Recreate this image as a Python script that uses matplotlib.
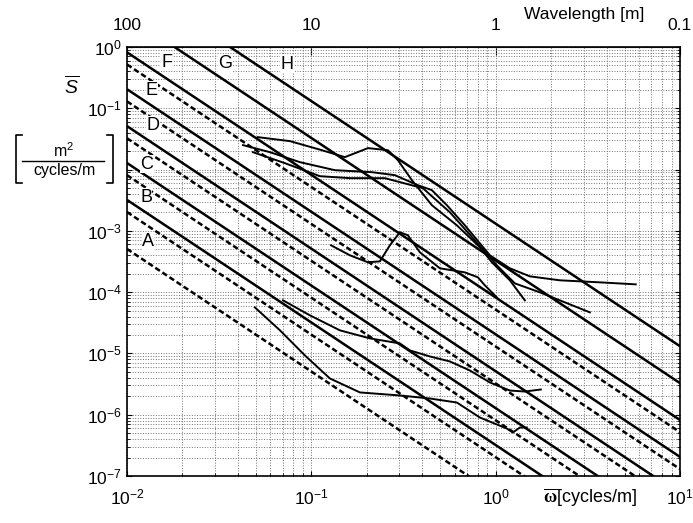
import numpy as np
import matplotlib.pyplot as plt
from matplotlib.lines import Line2D
from matplotlib.ticker import LogLocator, FixedLocator, NullFormatter

plt.rcParams['font.family'] = 'Liberation Sans'
plt.rcParams['mathtext.fontset'] = 'custom'
plt.rcParams['mathtext.rm'] = 'Liberation Sans'
plt.rcParams['mathtext.it'] = 'Liberation Sans:italic'
plt.rcParams['mathtext.bf'] = 'Liberation Serif:bold'

# ISO class boundaries at n0 = 0.1 cycles/m [m^3]
iso_bounds = [32e-6, 128e-6, 512e-6, 2048e-6, 8192e-6, 32768e-6, 131072e-6]
iso_n0 = 0.1
# older class limits at 1/(2 pi) cycles/m
old_bounds = [2e-6, 8e-6, 32e-6, 128e-6, 512e-6, 2048e-6]
old_n0 = 1 / (2 * np.pi)
freq_range = [1e-2, 1e1]

class_labels = ['A', 'B', 'C', 'D', 'E', 'F', 'G', 'H']
label_x = [0.0130, 0.01268, 0.01284, 0.01384, 0.01366, 0.01648, 0.0340, 0.0737]
label_y = [6.76e-4, 3.54e-3, 1.225e-2, 0.0531, 0.1983, 0.5688, 0.5477, 0.527]

# measured spectra
u1_f = [0.0513, 0.0766, 0.1141, 0.1521, 0.2028, 0.2602, 0.2948, 0.3512, 0.4508, 0.6162, 0.821, 0.9537, 1.194, 1.44]
u1_s = [0.0338, 0.0291, 0.0207, 0.01595, 0.0224, 0.0207, 0.01425, 6.71e-3, 2.62e-3, 1.23e-3, 5.4e-4, 3.07e-4, 1.56e-4, 7.35e-5]

u2_f = [0.0426, 0.0596, 0.0867, 0.1343, 0.2131, 0.284, 0.3784, 0.4508, 0.5438, 0.681, 0.930, 1.194, 1.533, 2.228, 3.673, 5.75]
u2_s = [0.02505, 0.01923, 0.01321, 9.77e-3, 9.07e-3, 8.1e-3, 5.56e-3, 4.61e-3, 2.62e-3, 1.23e-3, 3.99e-4, 2.45e-4, 1.81e-4, 1.56e-4, 1.445e-4, 1.34e-4]

u3_f = [0.0482, 0.0719, 0.1113, 0.162, 0.2506, 0.4027, 0.5645, 0.771, 1.015, 1.271, 1.737, 2.228, 3.243]
u3_s = [0.01923, 0.01272, 7.8e-3, 7.24e-3, 7.24e-3, 4.97e-3, 2.01e-3, 7.02e-4, 2.74e-4, 1.39e-4, 9.93e-5, 7.35e-5, 4.68e-5]

m_f = [0.1278, 0.162, 0.2028, 0.2355, 0.2668, 0.3023, 0.334, 0.388, 0.498, 0.681, 0.801, 0.874, 1.015]
m_s = [5.82e-4, 3.99e-4, 3.07e-4, 3.18e-4, 5.82e-4, 9.48e-4, 8.47e-4, 4.47e-4, 2.45e-4, 2.1e-4, 1.745e-4, 1.29e-4, 8.22e-5]

la_f = [0.0702, 0.0983, 0.1429, 0.2079, 0.3023, 0.3425, 0.4395, 0.5645, 0.7244, 0.930, 1.194, 1.44, 1.758]
la_s = [7.35e-5, 4.18e-5, 2.38e-5, 1.76e-5, 1.456e-5, 1.12e-5, 8.93e-6, 7.4e-6, 5.27e-6, 3.36e-6, 2.48e-6, 2.39e-6, 2.58e-6]

lb_f = [0.0494, 0.0676, 0.0923, 0.1262, 0.1835, 0.3023, 0.4395, 0.6162, 0.821, 1.15, 1.24, 1.352, 1.476]
lb_s = [5.64e-5, 2.38e-5, 9.27e-6, 3.9e-6, 2.31e-6, 2.06e-6, 1.84e-6, 1.58e-6, 9.0e-7, 5.94e-7, 5.12e-7, 6.18e-7, 6.18e-7]

spectra = [(u1_f, u1_s), (u2_f, u2_s), (u3_f, u3_s), (m_f, m_s), (la_f, la_s), (lb_f, lb_s)]

y_ticks = [1e-7, 1e-6, 1e-5, 1e-4, 1e-3, 1e-2, 1e-1, 1]
y_labels = [r'$10^{-7}$', r'$10^{-6}$', r'$10^{-5}$', r'$10^{-4}$', r'$10^{-3}$', '', r'$10^{-1}$', r'$10^{0}$']
wl_ticks = [100, 10, 1, 0.1]
wl_labels = ['100', '10', '1', '0.1']

fig = plt.figure(figsize=(6.93, 5.23), dpi=100)
ax = fig.add_axes([127/693, 1 - 476/523, 553/693, 429/523])
ax.set_xscale('log')
ax.set_yscale('log')
ax.set_xlim(1e-2, 1e1)
ax.set_ylim(1e-7, 1)

f = np.array(freq_range)
for g in iso_bounds:
    ax.plot(f, g * (f / iso_n0) ** -2, color='black', lw=1.8, solid_capstyle='butt')
for g in old_bounds:
    ax.plot(f, g * (f / old_n0) ** -2, color='black', lw=1.8, ls=(0, (2.2, 1.2)))

for fx, sy in spectra:
    ax.plot(fx, sy, color='black', lw=1.4)

for lab, x, y in zip(class_labels, label_x, label_y):
    ax.text(x, y, lab, fontsize=13, ha='center', va='center',
            bbox=dict(facecolor='white', edgecolor='none', pad=0.3))

ax.grid(True, which='both', ls=':', lw=0.7, color='0.45')
ax.set_yticks(y_ticks)
ax.set_yticklabels(y_labels)
ax.yaxis.set_minor_locator(LogLocator(base=10, subs=np.arange(2, 10), numticks=12))
ax.yaxis.set_minor_formatter(NullFormatter())
ax.tick_params(which='both', direction='in', top=False, right=True, labelsize=12.5)
ax.tick_params(axis='x', pad=8)
for s in ax.spines.values():
    s.set_linewidth(1.2)

top = ax.secondary_xaxis('top', functions=(lambda x: 1 / x, lambda x: 1 / x))
top.xaxis.set_major_locator(FixedLocator(wl_ticks))
top.xaxis.set_minor_locator(FixedLocator([]))
top.set_xticklabels(wl_labels)
top.tick_params(direction='in', labelsize=12.5, length=6, pad=10)

fig.text(584/693, 1 - 14/523, 'Wavelength [m]', fontsize=12.5, ha='center', va='center')
fig.text(72/693, 1 - 86/523, r'$\overline{S}$', fontsize=14, ha='center', va='center')

# y unit in brackets
fig.text(64/693, 1 - 151/523, r'm$^2$', fontsize=11.5, ha='center', va='center')
fig.text(64/693, 1 - 170/523, 'cycles/m', fontsize=11.5, ha='center', va='center')
fig.add_artist(Line2D([22/693, 104/693], [1 - 161/523, 1 - 161/523], color='black', lw=1))
for xb, xs in [(16, 22), (113, 107)]:
    fig.add_artist(Line2D([xs/693, xb/693, xb/693, xs/693],
                          [1 - 135/523, 1 - 135/523, 1 - 183/523, 1 - 183/523],
                          color='black', lw=1.2))

fig.text(590/693, 1 - 498/523, r'$\overline{\mathbf{\omega}}\left[\mathrm{cycles/m}\right]$',
         fontsize=13, ha='center', va='center')

fig.savefig('out.png', dpi=100)
